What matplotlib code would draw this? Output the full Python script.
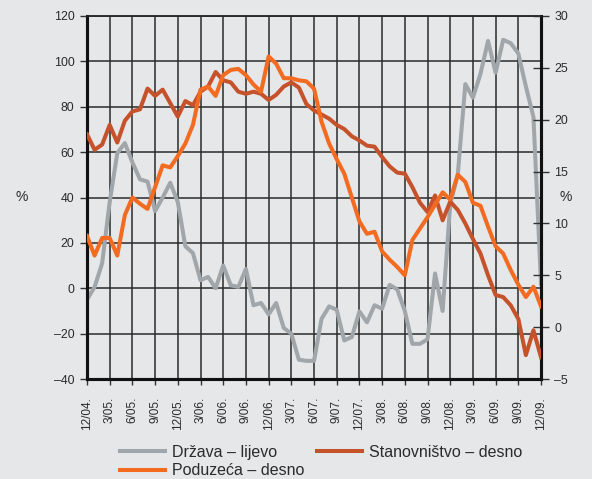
import matplotlib
matplotlib.use('Agg')
import matplotlib.pyplot as plt
from matplotlib.lines import Line2D

plt.rcParams['font.family'] = ['Liberation Sans', 'DejaVu Sans']

# ---------------- data ----------------
x_tick_labels = ["12/04.", "3/05.", "6/05.", "9/05.", "12/05.", "3/06.", "6/06.", "9/06.",
                 "12/06.", "3/07.", "6/07.", "9/07.", "12/07.", "3/08.", "6/08.", "9/08.",
                 "12/08.", "3/09.", "6/09.", "9/09.", "12/09."]

drzava = [-5, 0.5, 11, 38, 59.5, 64, 55.5, 48, 47, 34,
          40, 46.5, 38, 18.5, 15.5, 3.5, 5, 0, 10, 1.3,
          0.6, 8.5, -7.5, -6.5, -11.5, -6.5, -17.5, -20, -31.5, -32,
          -32, -13.5, -8, -9.5, -23, -21.5, -10.2, -15, -7.5, -9,
          1.5, -0.5, -10, -24.5, -24.5, -22.5, 6.5, -10, 37, 50,
          90, 84, 94.5, 109, 95, 109.5, 108, 103.5, 89, 75.5,
          2]

poduzeca = [8.8, 6.9, 8.6, 8.6, 6.9, 10.8, 12.5, 11.9, 11.4, 13.5,
            15.6, 15.4, 16.5, 17.7, 19.5, 22.9, 23.2, 22.3, 24.3, 24.8,
            24.9, 24.3, 23.4, 22.7, 26.1, 25.4, 24.0, 24.0, 23.8, 23.7,
            23.0, 19.8, 17.7, 16.2, 14.8, 12.5, 10.2, 9.0, 9.2, 7.3,
            6.5, 5.8, 5.0, 8.4, 9.5, 10.6, 11.8, 13.0, 12.3, 14.7,
            14.0, 12.0, 11.7, 9.7, 7.8, 7.1, 5.5, 4.1, 2.9, 3.9,
            2.0]

stanovnistvo = [18.6, 17.1, 17.6, 19.5, 17.8, 19.9, 20.8, 21.0, 23.0, 22.3,
                22.9, 21.6, 20.3, 21.8, 21.4, 22.7, 23.2, 24.6, 23.8, 23.6,
                22.7, 22.5, 22.7, 22.5, 21.9, 22.4, 23.2, 23.6, 23.1, 21.5,
                20.9, 20.5, 20.1, 19.5, 19.1, 18.4, 18.0, 17.5, 17.4, 16.4,
                15.5, 14.9, 14.8, 13.5, 12.0, 11.1, 12.7, 10.3, 12.1, 11.3,
                10.0, 8.5, 7.1, 5.0, 3.1, 2.9, 2.1, 0.8, -2.7, -0.3,
                -2.9]

left_ticks = [-40, -20, 0, 20, 40, 60, 80, 100, 120]
right_ticks = [-5, 0, 5, 10, 15, 20, 25, 30]

labels = ["Država – lijevo", "Poduzeća – desno", "Stanovništvo – desno"]

# ---------------- style ----------------
bg = '#e6e7e8'
c_gray = '#a1a6aa'
c_orange = '#f26b21'
c_dark = '#c5522b'
grid_c = '#2a2a2a'
txt_c = '#2b2b2b'
lw = 2.9

fig = plt.figure(figsize=(5.92, 4.79), dpi=100, facecolor=bg)
W, H = 592, 479
x0, x1, y0, y1 = 87, 541, 16, 379
ax = fig.add_axes([x0 / W, 1 - y1 / H, (x1 - x0) / W, (y1 - y0) / H])
ax.set_facecolor(bg)

months = list(range(len(drzava)))
ax.plot(months, drzava, color=c_gray, lw=lw, zorder=3)
ax.set_xlim(0, 60)
ax.set_ylim(-40, 120)
ax.set_yticks(left_ticks)
ax.set_yticklabels([str(v).replace('-', '–') for v in left_ticks])
ax.set_xticks(list(range(0, 61, 3)))
ax.set_xticklabels(x_tick_labels, rotation=90)
ax.grid(True, color=grid_c, lw=1.1, zorder=0)
ax.set_axisbelow(True)
ax.tick_params(axis='y', direction='out', length=5, width=1, pad=4,
               labelsize=8.9, labelcolor=txt_c, color='#333333')
ax.tick_params(axis='x', direction='out', length=4, width=1, pad=9,
               labelsize=8.5, labelcolor=txt_c, color='#333333')

ax2 = ax.twinx()
ax2.plot(months, stanovnistvo, color=c_dark, lw=lw, zorder=3)
ax2.plot(months, poduzeca, color=c_orange, lw=lw, zorder=4)
ax2.set_ylim(-5, 30)
ax2.set_yticks(right_ticks)
ax2.set_yticklabels([str(v).replace('-', '–') for v in right_ticks])
ax2.tick_params(axis='y', direction='inout', length=11, width=1, pad=4,
                labelsize=8.9, labelcolor=txt_c, color='#333333')

for a in (ax, ax2):
    for s in ('left', 'right', 'bottom'):
        a.spines[s].set_linewidth(2.2)
        a.spines[s].set_color('#111111')
    a.spines['top'].set_linewidth(1.1)
    a.spines['top'].set_color(grid_c)

fig.text(22 / W, 1 - 197 / H, '%', fontsize=10, color=txt_c, ha='center', va='center')
fig.text(566 / W, 1 - 197 / H, '%', fontsize=10, color=txt_c, ha='center', va='center')

handles = [Line2D([], [], color=c_gray, lw=lw),
           Line2D([], [], color=c_orange, lw=lw),
           Line2D([], [], color=c_dark, lw=lw)]
fig.legend(handles, labels, ncol=2, loc='upper left',
           bbox_to_anchor=(120 / W, 1 - 445 / H), frameon=False,
           fontsize=11.5, handlelength=2.8, handletextpad=0.45,
           columnspacing=0.8, labelspacing=0.2, borderpad=0, borderaxespad=0,
           labelcolor=txt_c)

fig.savefig('out.png', dpi=100, facecolor=bg)
